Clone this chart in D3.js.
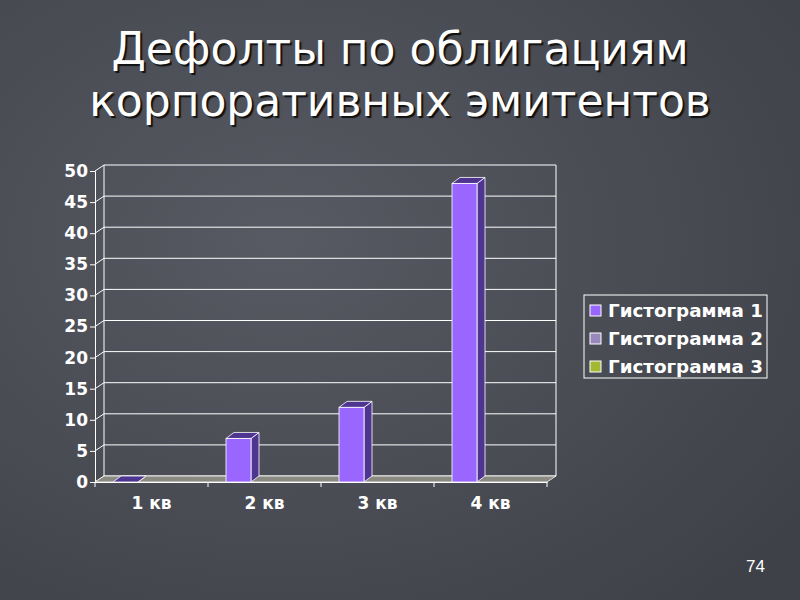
<!DOCTYPE html>
<html><head><meta charset="utf-8">
<script src="https://cdn.jsdelivr.net/npm/d3@7"></script>
<style>body{margin:0;background:#4b4e56;}svg{display:block;}</style>
</head><body>
<script>
const categories = ["1 кв", "2 кв", "3 кв", "4 кв"];
const seriesNames = ["Гистограмма 1", "Гистограмма 2", "Гистограмма 3"];
const series1 = [0, 7, 12, 48];
const series2 = [0, 0, 0, 0];
const series3 = [0, 0, 0, 0];
const yTicks = [0, 5, 10, 15, 20, 25, 30, 35, 40, 45, 50];
const colors = ["#9966ff", "#9988bb", "#a3b833"];
const sideColors = ["#4e3590", "#5a4d78", "#5c6a1a"];

const W = 800, H = 600;
const svg = d3.select("body").append("svg").attr("width", W).attr("height", H);

// background gradient
const defs = svg.append("defs");
const g0 = defs.append("radialGradient").attr("id", "bg").attr("cx", "35%").attr("cy", "40%").attr("r", "80%");
g0.append("stop").attr("offset", "0%").attr("stop-color", "#575a62");
g0.append("stop").attr("offset", "100%").attr("stop-color", "#3e4148");
svg.append("rect").attr("width", W).attr("height", H).attr("fill", "url(#bg)");

// title (shadow via css)
const title = ["Дефолты по облигациям", "корпоративных эмитентов"];
title.forEach((t, i) => {
  svg.append("text").attr("x", 400).attr("y", 64 + i * 52).attr("text-anchor", "middle")
    .attr("font-family", "DejaVu Sans").attr("font-size", 44).attr("fill", "#fff")
    .style("text-shadow", "2px 2px 1px #111").text(t);
});

const pLeft = 95, pRight = 547, pBottom = 482, pTop = 171;
const dx = 9, dy = -6;
const x = d3.scaleBand().domain(categories).range([pLeft, pRight]);
const xs = d3.scaleBand().domain(seriesNames).range([18, 18 + 25 * 3]);
const y = d3.scaleLinear().domain([0, 50]).range([pBottom, pTop]);

const plot = svg.append("g");
// back wall gridlines
plot.selectAll("line.grid").data(yTicks).enter().append("line")
  .attr("x1", pLeft + dx).attr("x2", pRight + dx)
  .attr("y1", d => y(d) + dy).attr("y2", d => y(d) + dy)
  .attr("stroke", "#fff").attr("stroke-width", 1);
plot.append("line").attr("x1", pRight + dx).attr("x2", pRight + dx).attr("y1", y(50) + dy).attr("y2", y(0) + dy).attr("stroke", "#fff");
plot.append("line").attr("x1", pLeft + dx).attr("x2", pLeft + dx).attr("y1", y(50) + dy).attr("y2", y(0) + dy).attr("stroke", "#fff");
// side wall diagonals
plot.selectAll("line.diag").data(yTicks).enter().append("line")
  .attr("x1", pLeft).attr("x2", pLeft + dx).attr("y1", d => y(d)).attr("y2", d => y(d) + dy)
  .attr("stroke", "#fff");
// floor
plot.append("path")
  .attr("d", `M${pLeft},${pBottom}L${pLeft + dx},${pBottom + dy}L${pRight + dx},${pBottom + dy}L${pRight},${pBottom}Z`)
  .attr("fill", "#8a8a82").attr("stroke", "#fff").attr("stroke-width", 0.8);

// bars
const data = [];
[series1, series2, series3].forEach((s, si) => s.forEach((v, ci) => data.push({ si, c: categories[ci], v })));
const bw = xs.bandwidth(), bdx = 8, bdy = -6;
const bars = plot.selectAll("g.bar").data(data.filter(d => d.si === 0)).enter().append("g");
bars.each(function (d) {
  const g = d3.select(this);
  const x0 = x(d.c) + xs(seriesNames[d.si]), y0 = y(d.v), yb = y(0);
  g.append("path").attr("d", `M${x0 + bw},${yb}L${x0 + bw + bdx},${yb + bdy}L${x0 + bw + bdx},${y0 + bdy}L${x0 + bw},${y0}Z`)
    .attr("fill", sideColors[d.si]).attr("stroke", "#fff").attr("stroke-width", 0.8);
  g.append("path").attr("d", `M${x0},${y0}L${x0 + bdx},${y0 + bdy}L${x0 + bw + bdx},${y0 + bdy}L${x0 + bw},${y0}Z`)
    .attr("fill", sideColors[d.si]).attr("stroke", "#fff").attr("stroke-width", 0.8);
  if (d.v > 0) g.append("rect").attr("x", x0).attr("y", y0).attr("width", bw).attr("height", yb - y0)
    .attr("fill", colors[d.si]).attr("stroke", "#fff").attr("stroke-width", 0.8);
});

// axes
const yAxis = svg.append("g").attr("transform", `translate(${pLeft},0)`)
  .call(d3.axisLeft(y).tickValues(yTicks).tickSize(5).tickPadding(2));
const xAxis = svg.append("g").attr("transform", `translate(0,${pBottom})`)
  .call(d3.axisBottom(x).tickSize(0).tickPadding(15));
xAxis.selectAll(".tick").append("line").attr("x1", -x.bandwidth() / 2).attr("x2", -x.bandwidth() / 2).attr("y2", 5).attr("stroke", "#fff");
xAxis.append("line").attr("x1", pRight).attr("x2", pRight).attr("y2", 5).attr("stroke", "#fff");
[yAxis, xAxis].forEach(a => {
  a.selectAll("path,line").attr("stroke", "#fff");
  a.selectAll("text").attr("fill", "#fff").attr("font-family", "DejaVu Sans").attr("font-weight", "bold").attr("font-size", 17);
});

// legend
const lg = svg.append("g").attr("transform", "translate(584,295)");
lg.append("rect").attr("width", 183).attr("height", 83).attr("fill", "none").attr("stroke", "#fff");
seriesNames.forEach((n, i) => {
  lg.append("rect").attr("x", 6).attr("y", 10 + i * 28).attr("width", 11).attr("height", 11)
    .attr("fill", colors[i]).attr("stroke", "#fff");
  lg.append("text").attr("x", 24).attr("y", 22 + i * 28).attr("fill", "#fff")
    .attr("font-family", "DejaVu Sans").attr("font-weight", "bold").attr("font-size", 17)
    .attr("textLength", 155).attr("lengthAdjust", "spacingAndGlyphs").text(n);
});

svg.append("text").attr("x", 765).attr("y", 572).attr("text-anchor", "end").attr("fill", "#fff")
  .attr("font-family", "Liberation Sans").attr("font-size", 17).text("74");
</script>
</body></html>
